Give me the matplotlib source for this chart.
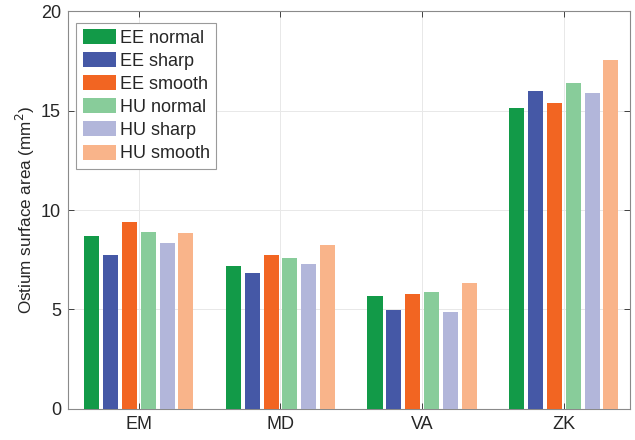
import numpy as np
import matplotlib
matplotlib.use('Agg')
import matplotlib.pyplot as plt

plt.rcParams['font.family'] = ['Liberation Sans', 'DejaVu Sans']

# data
categories = ['EM', 'MD', 'VA', 'ZK']
series = ['EE normal', 'EE sharp', 'EE smooth', 'HU normal', 'HU sharp', 'HU smooth']
values = [
    [8.69, 7.19, 5.68, 15.12],   # EE normal
    [7.76, 6.84, 4.95, 16.01],   # EE sharp
    [9.39, 7.76, 5.78, 15.37],   # EE smooth
    [8.91, 7.61, 5.86, 16.40],   # HU normal
    [8.35, 7.27, 4.87, 15.89],   # HU sharp
    [8.87, 8.25, 6.33, 17.56],   # HU smooth
]
colors = ['#129a48', '#4558a6', '#f26522', '#88cc9a', '#b2b6da', '#f9b48a']

fig = plt.figure(figsize=(6.35, 4.4), dpi=100)
ax = fig.add_axes([0.107, 0.071, 0.885, 0.903])

x = np.arange(1, len(categories) + 1)
pitch = 0.133
width = 0.106
for i, (name, vals, c) in enumerate(zip(series, values, colors)):
    off = (i - (len(series) - 1) / 2) * pitch
    ax.bar(x + off, vals, width, color=c, label=name, linewidth=0, zorder=3)

ax.set_xlim(0.5, 4.467)
ax.set_ylim(0, 20)
ax.set_xticks(x)
ax.set_xticklabels(categories)
ax.set_yticks([0, 5, 10, 15, 20])
ax.tick_params(direction='in', top=True, right=True, labelsize=13,
               colors='#262626', length=4, width=0.6, pad=5)
ax.grid(True, color='#e8e8e8', linewidth=0.7, zorder=0)
for s in ax.spines.values():
    s.set_color('#8a8a8a')
    s.set_linewidth(0.8)

ax.set_ylabel('Ostium surface area (mm$^2$)', fontsize=12.3, color='#262626', labelpad=2.5)

leg = ax.legend(loc='upper left', bbox_to_anchor=(0.015, 0.972), fontsize=13,
                handlelength=1.85, handleheight=0.9, handletextpad=0.2,
                labelspacing=0.3, borderpad=0.35, borderaxespad=0,
                fancybox=False, framealpha=1)
leg.get_frame().set_edgecolor('#9a9a9a')
leg.get_frame().set_linewidth(0.8)
for t in leg.get_texts():
    t.set_color('#262626')

fig.savefig('out.png', dpi=100)
